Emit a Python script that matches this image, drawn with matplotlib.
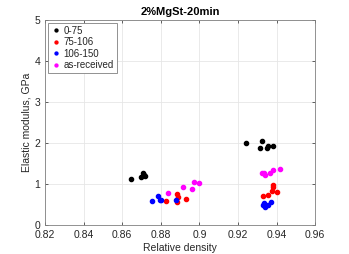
import matplotlib
matplotlib.use('Agg')
import matplotlib.pyplot as plt

# particle size fractions: relative density vs elastic modulus (GPa)
d_0_75 = [0.8645, 0.870, 0.871, 0.8715, 0.872, 0.9243, 0.9325, 0.9316, 0.9349, 0.9357, 0.9382]
e_0_75 = [1.12, 1.18, 1.28, 1.22, 1.19, 1.99, 2.04, 1.88, 1.87, 1.94, 1.94]

d_75_106 = [0.8829, 0.8886, 0.8891, 0.8883, 0.8933, 0.938, 0.938, 0.9375, 0.940, 0.9356, 0.9332]
e_75_106 = [0.59, 0.76, 0.68, 0.55, 0.63, 0.98, 0.93, 0.82, 0.81, 0.74, 0.70]

d_106_150 = [0.8756, 0.8787, 0.8794, 0.8803, 0.8877, 0.9334, 0.9339, 0.9354, 0.9373, 0.933]
e_106_150 = [0.585, 0.70, 0.60, 0.62, 0.62, 0.53, 0.45, 0.49, 0.56, 0.48]

d_asrec = [0.8838, 0.8914, 0.8961, 0.897, 0.8997, 0.9325, 0.934, 0.9335, 0.9366, 0.9383, 0.942]
e_asrec = [0.79, 0.94, 0.87, 1.06, 1.02, 1.28, 1.22, 1.26, 1.27, 1.34, 1.37]

plt.rcParams['font.family'] = ['Liberation Sans', 'DejaVu Sans']
plt.rcParams['font.size'] = 7.5

fig = plt.figure(figsize=(3.49, 2.54), dpi=100)
ax = fig.add_axes([0.129, 0.114, 0.774, 0.807])

ax.plot(d_0_75, e_0_75, '.', color='black', markersize=6, label='0-75')
ax.plot(d_75_106, e_75_106, '.', color='red', markersize=6, label='75-106')
ax.plot(d_106_150, e_106_150, '.', color='blue', markersize=6, label='106-150')
ax.plot(d_asrec, e_asrec, '.', color='magenta', markersize=6, label='as-received')

ax.set_xlim(0.82, 0.96)
ax.set_ylim(0, 5)
ax.set_xticks([0.82, 0.84, 0.86, 0.88, 0.9, 0.92, 0.94, 0.96])
ax.set_xticklabels(['0.82', '0.84', '0.86', '0.88', '0.9', '0.92', '0.94', '0.96'])
ax.set_yticks([0, 1, 2, 3, 4, 5])
ax.grid(True, color='#e6e6e6', linewidth=0.6)
ax.set_axisbelow(True)
ax.tick_params(direction='in', length=2.5, width=0.5, colors='#262626', top=True, right=True)
for s in ax.spines.values():
    s.set_color('#808080')
    s.set_linewidth(0.6)

ax.set_xlabel('Relative density', labelpad=2, color='#262626')
ax.set_ylabel('Elastic modulus, GPa', labelpad=2, color='#262626')
ax.set_title('2%MgSt-20min', fontweight='bold', fontsize=8, pad=4)

leg = ax.legend(loc='upper left', fontsize=7, handlelength=1.0, handletextpad=0.3,
                borderpad=0.3, labelspacing=0.15, borderaxespad=0.3,
                fancybox=False, framealpha=1, edgecolor='#808080', markerscale=0.7)
leg.get_frame().set_linewidth(0.6)
for t in leg.get_texts():
    t.set_color('#262626')

fig.savefig('out.png', dpi=100)
